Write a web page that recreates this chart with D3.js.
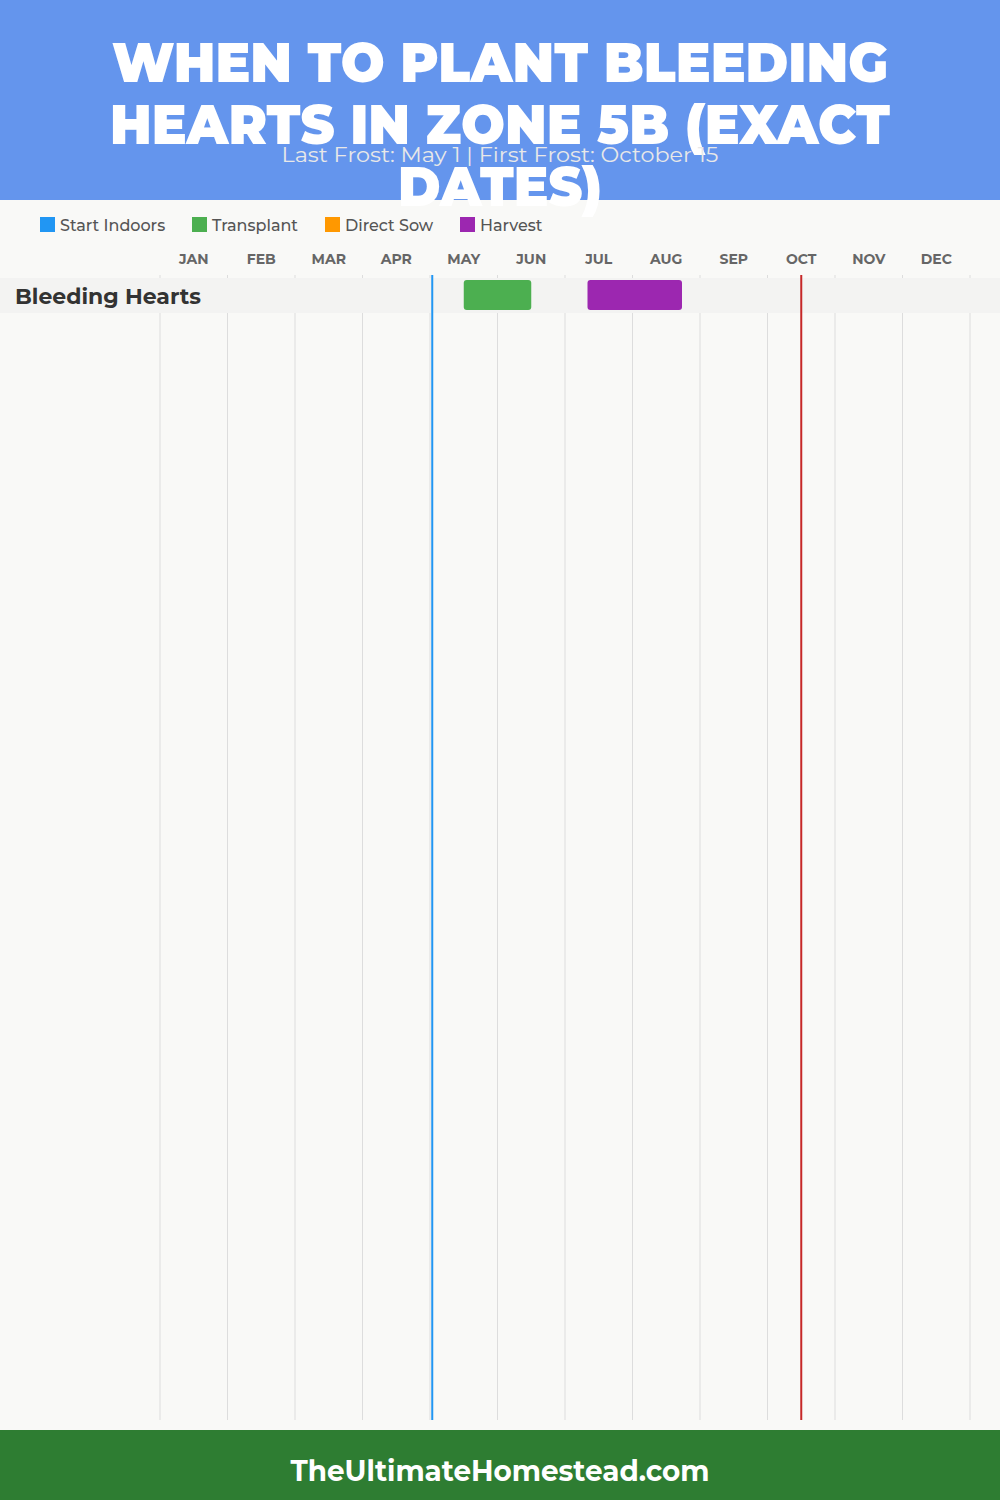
<!DOCTYPE html>
<html>
<head>
<meta charset="utf-8">
<script src="https://cdn.jsdelivr.net/npm/d3@7"></script>
<style>
  body { margin: 0; background: #f9f9f7; }
  svg { display: block; }
</style>
</head>
<body>
<script>
// Chart data
var months = ["JAN", "FEB", "MAR", "APR", "MAY", "JUN", "JUL", "AUG", "SEP", "OCT", "NOV", "DEC"]
var crops = ["Bleeding Hearts"]
var taskTypes = ["Start Indoors", "Transplant", "Direct Sow", "Harvest"]
var taskColors = ["#2196F3", "#4CAF50", "#FF9800", "#9C27B0"]
// [crop, type, start month, start day, end month, end day]
var tasks = [
  ["Bleeding Hearts", "Transplant", 5, 15, 6, 15],
  ["Bleeding Hearts", "Harvest", 7, 10, 8, 22]
]
var lastFrost = [5, 1]
var firstFrost = [10, 15]
var titleLines = ["WHEN TO PLANT BLEEDING", "HEARTS IN ZONE 5B (EXACT", "DATES)"]
var subtitle = "Last Frost: May 1 | First Frost: October 15"
var footer = "TheUltimateHomestead.com"

var W = 1000, H = 1500
var font = "Montserrat, Inter, 'Open Sans', sans-serif"

var svg = d3.select("body").append("svg")
  .attr("width", W)
  .attr("height", H)
  .style("font-family", font)

svg.append("rect").attr("width", W).attr("height", H).attr("fill", "#f9f9f7")

// Scales
var x = d3.scaleLinear().domain([0, 12]).range([160, 970])
var monthBand = d3.scaleBand().domain(months).range([160, 970])
var color = d3.scaleOrdinal().domain(taskTypes).range(taskColors)
var rowY = d3.scaleBand().domain(crops).range([278, 278 + 35 * crops.length])
function datePos(m, d) { return x(m - 1 + d / 30) }

var gridTop = 275, gridBottom = 1420

// Grid lines
svg.append("g").selectAll("line")
  .data(d3.range(13))
  .enter().append("line")
    .attr("x1", function(d) { return x(d) })
    .attr("x2", function(d) { return x(d) })
    .attr("y1", gridTop)
    .attr("y2", gridBottom)
    .attr("stroke", "#dddddd")
    .attr("stroke-width", 1)

// Month labels
svg.append("g").selectAll("text")
  .data(months)
  .enter().append("text")
    .attr("x", function(d) { return monthBand(d) + monthBand.bandwidth() / 2 })
    .attr("y", 264)
    .attr("text-anchor", "middle")
    .attr("fill", "#666")
    .style("font-size", "14px")
    .style("font-weight", "700")
    .text(function(d) { return d })

// Row bands and labels
var rows = svg.append("g").selectAll("g")
  .data(crops)
  .enter().append("g")
rows.append("rect")
  .attr("x", 0)
  .attr("y", function(d) { return rowY(d) })
  .attr("width", W)
  .attr("height", rowY.bandwidth())
  .attr("fill", "#f3f3f2")
rows.append("text")
  .attr("x", 15)
  .attr("y", function(d) { return rowY(d) + 26 })
  .attr("fill", "#333")
  .style("font-size", "22px")
  .style("font-weight", "700")
  .text(function(d) { return d })

// Task bars
svg.append("g").selectAll("rect")
  .data(tasks)
  .enter().append("rect")
    .attr("x", function(d) { return datePos(d[2], d[3]) })
    .attr("y", function(d) { return rowY(d[0]) + 2 })
    .attr("width", function(d) { return datePos(d[4], d[5]) - datePos(d[2], d[3]) })
    .attr("height", rowY.bandwidth() - 5)
    .attr("rx", 3)
    .attr("fill", function(d) { return color(d[1]) })

// Frost lines
svg.append("line")
  .attr("x1", datePos(lastFrost[0], lastFrost[1]))
  .attr("x2", datePos(lastFrost[0], lastFrost[1]))
  .attr("y1", gridTop).attr("y2", gridBottom)
  .attr("stroke", "#2196F3").attr("stroke-width", 2)
svg.append("line")
  .attr("x1", datePos(firstFrost[0], firstFrost[1]))
  .attr("x2", datePos(firstFrost[0], firstFrost[1]))
  .attr("y1", gridTop).attr("y2", gridBottom)
  .attr("stroke", "#c62828").attr("stroke-width", 2)

// Legend
var legendX = [40, 192, 325, 460]
var legend = svg.append("g").selectAll("g")
  .data(taskTypes)
  .enter().append("g")
    .attr("transform", function(d, i) { return "translate(" + legendX[i] + ",217)" })
legend.append("rect")
  .attr("width", 15).attr("height", 15)
  .attr("fill", function(d) { return color(d) })
legend.append("text")
  .attr("x", 20).attr("y", 14)
  .attr("fill", "#555")
  .style("font-size", "16px")
  .style("font-weight", "500")
  .text(function(d) { return d })

// Header
svg.append("rect").attr("width", W).attr("height", 200).attr("fill", "#6495ED")
var titleWidths = [776, 780, 204]
svg.append("g").selectAll("text")
  .data(titleLines)
  .enter().append("text")
    .attr("x", W / 2)
    .attr("y", 82 + 0)
    .attr("y", function(d, i) { return 82 + i * 62 })
    .attr("text-anchor", "middle")
    .attr("fill", "#fff")
    .attr("textLength", function(d, i) { return titleWidths[i] })
    .attr("lengthAdjust", "spacingAndGlyphs")
    .style("font-size", "55px")
    .style("font-weight", "900")
    .text(function(d) { return d })
svg.append("text")
  .attr("x", W / 2).attr("y", 162)
  .attr("text-anchor", "middle")
  .attr("fill", "#e8e8e8")
  .attr("textLength", 437)
  .attr("lengthAdjust", "spacingAndGlyphs")
  .style("font-size", "21px")
  .text(subtitle)

// Footer
svg.append("rect").attr("y", 1430).attr("width", W).attr("height", 70).attr("fill", "#2E7D32")
svg.append("text")
  .attr("x", W / 2).attr("y", 1481)
  .attr("text-anchor", "middle")
  .attr("fill", "#fff")
  .attr("textLength", 419)
  .attr("lengthAdjust", "spacingAndGlyphs")
  .style("font-size", "29px")
  .style("font-weight", "700")
  .text(footer)
</script>
</body>
</html>
